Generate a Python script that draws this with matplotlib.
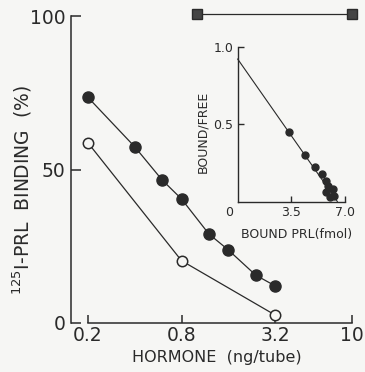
import numpy as np
import matplotlib
matplotlib.use("Agg")
import matplotlib.pyplot as plt
from matplotlib import font_manager

# main panel data
dose_filled = [0.2, 0.4, 0.6, 0.8, 1.2, 1.6, 2.4, 3.2]
bind_filled = [73.5, 57.4, 46.6, 40.4, 29.0, 23.8, 15.6, 12.1]
dose_open = [0.2, 0.8, 3.2]
bind_open = [58.7, 20.3, 2.6]
bar_x = [1.0, 10.0]
bar_y = [100.5, 100.5]
x_ticks = [0.2, 0.8, 3.2, 10]
x_ticklabels = ["0.2", "0.8", "3.2", "10"]
y_ticks = [0, 50, 100]

# inset (scatchard) data
bound = [3.35, 4.40, 5.05, 5.51, 5.77, 5.90, 6.23, 5.77, 6.29, 6.03]
bf = [0.45, 0.30, 0.22, 0.177, 0.135, 0.10, 0.08, 0.06, 0.035, 0.03]
fit_x = [0.0, 6.5]
fit_y = [0.92, 0.0]

ink = "#2a2a2a"
bg = "#f6f6f4"

names = {f.name for f in font_manager.fontManager.ttflist}
narrow = "Liberation Sans Narrow" if "Liberation Sans Narrow" in names else "DejaVu Sans"

fig = plt.figure(figsize=(3.65, 3.72), dpi=100, facecolor=bg)

ax = fig.add_axes([71 / 365, 1 - 323 / 372, (352 - 71) / 365, (323 - 16) / 372])
ax.set_facecolor("none")
ax.set_xscale("log")
ax.set_xlim(10 ** (-0.808), 10)
ax.set_ylim(0, 100)

ax.plot(dose_filled, bind_filled, color=ink, lw=0.9, marker="o", ms=8,
        mfc=ink, mec=ink, clip_on=False, zorder=3)
ax.plot(dose_open, bind_open, color=ink, lw=0.9, marker="o", ms=7.5,
        mfc=bg, mec=ink, mew=1.1, clip_on=False, zorder=3)
ax.plot(bar_x, bar_y, color=ink, lw=0.9, marker="s", ms=7,
        mfc="#444444", mec=ink, clip_on=False, zorder=3)

for s in ["top", "right"]:
    ax.spines[s].set_visible(False)
ax.spines["left"].set_bounds(0, 100)
ax.spines["bottom"].set_bounds(0.2, 10)
for s in ["left", "bottom"]:
    ax.spines[s].set_linewidth(1.1)
    ax.spines[s].set_color(ink)

ax.set_xticks(x_ticks)
ax.set_xticklabels(x_ticklabels)
ax.xaxis.set_minor_locator(matplotlib.ticker.NullLocator())
ax.set_yticks(y_ticks)
ax.tick_params(axis="x", direction="in", length=5.5, width=1.1, pad=2.5,
               labelsize=13.5, colors=ink)
ax.tick_params(axis="y", direction="in", length=7.5, width=1.1, pad=4,
               labelsize=13.5, colors=ink)

ax.set_xlabel("HORMONE  (ng/tube)", fontsize=11.5, color=ink)
ax.xaxis.set_label_coords(0.52, -0.088)
ax.set_ylabel("$^{125}$I-PRL  BINDING  (%)", fontsize=13.5, color=ink)
ax.yaxis.set_label_coords(-0.13, 0.433)

# inset
ins = fig.add_axes([237.7 / 365, 1 - 201.5 / 372, (345 - 237.7) / 365, (201.5 - 46.7) / 372])
ins.set_facecolor("none")
ins.set_xlim(0, 7)
ins.set_ylim(0, 1)
ins.plot(fit_x, fit_y, color=ink, lw=0.8, clip_on=False)
ins.plot(bound, bf, "o", color=ink, ms=5, clip_on=False, zorder=3)
for s in ["top", "right"]:
    ins.spines[s].set_visible(False)
for s in ["left", "bottom"]:
    ins.spines[s].set_linewidth(1.0)
    ins.spines[s].set_color(ink)
ins.set_xticks([3.5, 7.0])
ins.set_xticklabels(["3.5", "7.0"], family=narrow)
ins.set_yticks([0.5, 1.0])
ins.set_yticklabels(["0.5", "1.0"], family=narrow)
ins.tick_params(direction="in", length=4.5, width=1.0, pad=3, labelsize=9,
                colors=ink)
ins.text(-0.55, -0.03, "0", ha="center", va="top", fontsize=9,
         family=narrow, color=ink)
ins.set_xlabel("BOUND PRL(fmol)", fontsize=9, family=narrow, color=ink)
ins.xaxis.set_label_coords(0.55, -0.173)
ins.set_ylabel("BOUND/FREE", fontsize=9, family=narrow, color=ink)
ins.yaxis.set_label_coords(-0.267, 0.449)

fig.savefig("out.png", dpi=100, facecolor=bg)
